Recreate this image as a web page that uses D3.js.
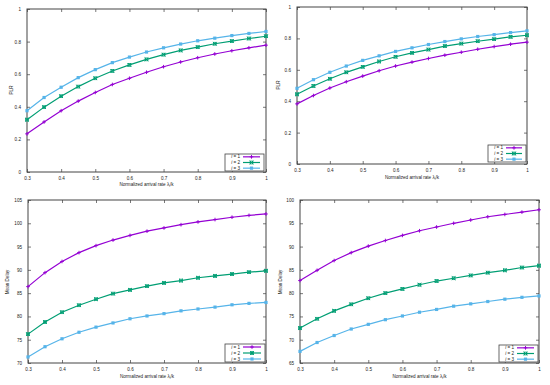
<!DOCTYPE html>
<html><head><meta charset="utf-8">
<script src="https://cdn.jsdelivr.net/npm/d3@7"></script>
<style>body{margin:0;background:#fff}svg{display:block}text{font-family:"Liberation Sans",Arial,sans-serif}</style>
</head><body>
<svg id="c" width="550" height="385"></svg>
<script>
const xs = [0.3,0.35,0.4,0.45,0.5,0.55,0.6,0.65,0.7,0.75,0.8,0.85,0.9,0.95,1.0];
const xTicks = [0.3,0.4,0.5,0.6,0.7,0.8,0.9,1];
const seriesNames = ["i = 1","i = 2","i = 3"];
const colors = ["#9400d3","#009e73","#56b4e9"];

const plrA1 = [0.234,0.307,0.376,0.435,0.488,0.537,0.575,0.612,0.646,0.675,0.701,0.724,0.744,0.762,0.778];
const plrA2 = [0.321,0.398,0.465,0.524,0.575,0.620,0.657,0.691,0.720,0.746,0.766,0.787,0.803,0.819,0.833];
const plrA3 = [0.376,0.457,0.520,0.579,0.628,0.671,0.705,0.736,0.762,0.785,0.805,0.821,0.837,0.850,0.862];

const plrB1 = [0.383,0.436,0.484,0.524,0.560,0.594,0.624,0.649,0.672,0.693,0.712,0.731,0.748,0.763,0.776];
const plrB2 = [0.444,0.497,0.543,0.584,0.619,0.653,0.683,0.708,0.729,0.751,0.767,0.782,0.795,0.810,0.820];
const plrB3 = [0.482,0.537,0.584,0.624,0.660,0.689,0.717,0.740,0.761,0.780,0.797,0.812,0.824,0.837,0.848];

const delayA1 = [86.4,89.4,91.8,93.7,95.2,96.4,97.4,98.3,99.0,99.7,100.3,100.8,101.3,101.7,102.0];
const delayA2 = [76.2,78.8,80.9,82.4,83.7,84.9,85.7,86.5,87.2,87.7,88.3,88.7,89.1,89.5,89.8];
const delayA3 = [71.3,73.5,75.2,76.6,77.7,78.6,79.5,80.1,80.6,81.2,81.6,82.0,82.5,82.8,83.0];

const delayB1 = [82.7,84.9,87.0,88.7,90.1,91.3,92.4,93.4,94.2,95.0,95.7,96.4,96.9,97.4,97.9];
const delayB2 = [72.5,74.5,76.2,77.6,78.9,80.0,80.9,81.8,82.6,83.2,83.8,84.4,84.9,85.5,85.9];
const delayB3 = [67.5,69.4,70.9,72.3,73.3,74.3,75.1,75.9,76.5,77.2,77.7,78.2,78.7,79.1,79.4];

const plrTicks = [0,0.2,0.4,0.6,0.8,1];
const delayTicksA = [70,75,80,85,90,95,100,105];
const delayTicksB = [65,70,75,80,85,90,95,100];

const svg = d3.select("#c");
const FS = 4.6;

const panels = [
  {x0:27,x1:266,y0:9,y1:172,dom:[0,1],ticks:plrTicks,title:"PLR",tx:11.7,ty:90,data:[plrA1,plrA2,plrA3],xt:185.6,leg:[225,154,264,171]},
  {x0:297,x1:527,y0:7,y1:164,dom:[0,1],ticks:plrTicks,title:"PLR",tx:278.5,ty:85,data:[plrB1,plrB2,plrB3],xt:178.6,leg:[488,145,526,162]},
  {x0:28,x1:266,y0:200,y1:363,dom:[70,105],ticks:delayTicksA,title:"Mean Delay",tx:7,ty:282,data:[delayA1,delayA2,delayA3],xt:377.6,leg:[225,344,265,362]},
  {x0:300,x1:539,y0:200,y1:363,dom:[65,100],ticks:delayTicksB,title:"Mean Delay",tx:280,ty:282,data:[delayB1,delayB2,delayB3],xt:377.6,leg:[499,345,538,362]}
];

function marker(g, k, x, y, c){
  if(k===0){
    g.append("path").attr("d",`M${x-1.8},${y}H${x+1.8}M${x},${y-1.8}V${y+1.8}`).attr("stroke",c).attr("stroke-width",1).attr("fill","none");
  } else if(k===1){
    g.append("path").attr("d",`M${x-1.8},${y-1.8}L${x+1.8},${y+1.8}M${x-1.8},${y+1.8}L${x+1.8},${y-1.8}`).attr("stroke",c).attr("stroke-width",1).attr("fill","none");
    g.append("rect").attr("x",x-1.4).attr("y",y-1.4).attr("width",2.8).attr("height",2.8).attr("fill","none").attr("stroke",c).attr("stroke-width",0.8);
  } else {
    g.append("rect").attr("x",x-1.6).attr("y",y-1.6).attr("width",3.2).attr("height",3.2).attr("fill",c);
  }
}

panels.forEach(p=>{
  const x = d3.scaleLinear().domain([0.3,1]).range([p.x0,p.x1]);
  const y = d3.scaleLinear().domain(p.dom).range([p.y1,p.y0]);
  const g = svg.append("g");
  const ax = g.append("g").attr("transform",`translate(0,${p.y1})`)
    .call(d3.axisBottom(x).tickValues(xTicks).tickSize(-3).tickPadding(5.2).tickFormat(d3.format("")));
  const ay = g.append("g").attr("transform",`translate(${p.x0},0)`)
    .call(d3.axisLeft(y).tickValues(p.ticks).tickSize(-3).tickPadding(6).tickFormat(d3.format("")));
  const axT = g.append("g").attr("transform",`translate(0,${p.y0})`)
    .call(d3.axisTop(x).tickValues(xTicks).tickSize(-3).tickFormat(""));
  const ayR = g.append("g").attr("transform",`translate(${p.x1},0)`)
    .call(d3.axisRight(y).tickValues(p.ticks).tickSize(-3).tickFormat(""));
  [ax,ay,axT,ayR].forEach(a=>{
    a.select(".domain").remove();
    a.selectAll("line").attr("stroke","#555").attr("stroke-width",0.8);
    a.selectAll("text").attr("font-size",FS).attr("fill","#222").attr("font-family","Liberation Sans, Arial, sans-serif");
  });
  g.append("rect").attr("x",p.x0).attr("y",p.y0).attr("width",p.x1-p.x0).attr("height",p.y1-p.y0)
    .attr("fill","none").attr("stroke","#444").attr("stroke-width",1);
  g.append("text").attr("transform",`translate(${p.tx+1.6},${p.ty}) rotate(-90)`)
    .attr("text-anchor","middle").attr("font-size",FS).attr("fill","#222").text(p.title);
  const xt = g.append("text").attr("x",(p.x0+p.x1)/2).attr("y",p.xt).attr("text-anchor","middle").attr("font-size",FS).attr("fill","#222");
  xt.append("tspan").text("Normalized arrival rate λ");
  xt.append("tspan").attr("font-size",3.4).attr("dy",1.1).text("i");
  xt.append("tspan").attr("dy",-1.1).text("/k");
  p.data.forEach((vals,k)=>{
    const line = d3.line().x((d,i)=>x(xs[i])).y(d=>y(d));
    g.append("path").datum(vals).attr("d",line).attr("fill","none").attr("stroke",colors[k]).attr("stroke-width",1.2);
    const mg = g.append("g");
    vals.forEach((v,i)=>marker(mg,k,x(xs[i]),y(v),colors[k]));
  });
  const [lx0,ly0,lx1,ly1] = p.leg;
  g.append("rect").attr("x",lx0).attr("y",ly0).attr("width",lx1-lx0).attr("height",ly1-ly0)
    .attr("fill","#fff").attr("stroke","#444").attr("stroke-width",0.8);
  const rh = (ly1-ly0)/3;
  seriesNames.forEach((n,k)=>{
    const cy = ly0 + rh*(k+0.5);
    const t = g.append("text").attr("x",lx0+15).attr("y",cy+1.6).attr("text-anchor","end").attr("font-size",4.6).attr("fill","#222");
    t.append("tspan").attr("font-style","italic").text("i");
    t.append("tspan").text(n.slice(1));
    const sx0 = lx0+18, sx1 = lx1-4;
    g.append("line").attr("x1",sx0).attr("x2",sx1).attr("y1",cy).attr("y2",cy).attr("stroke",colors[k]).attr("stroke-width",1.2);
    marker(g,k,(sx0+sx1)/2,cy,colors[k]);
  });
});
</script>
</body></html>
